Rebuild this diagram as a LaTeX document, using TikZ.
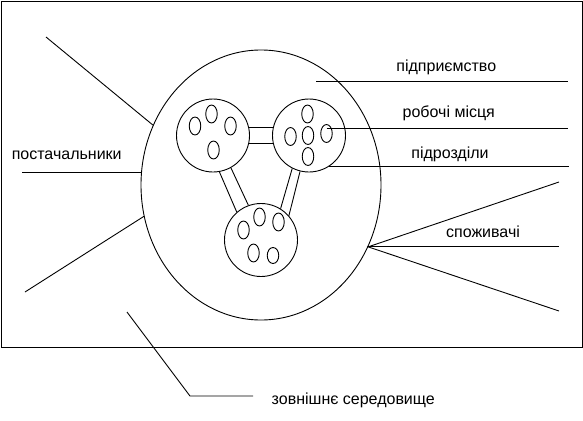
\documentclass[tikz,border=0pt]{standalone}
\usepackage{fontspec}
\setmainfont{Liberation Sans}
\usetikzlibrary{shapes.geometric}

\tikzset{
  unit/.style={draw, circle, minimum size=73pt, inner sep=0pt},
  place/.style={draw, ellipse, minimum width=11.5pt, minimum height=18pt, inner sep=0pt},
  lbl/.style={font=\fontsize{16}{19}\selectfont, anchor=base, inner sep=0pt},
}

\begin{document}
\begin{tikzpicture}[x=1pt, y=-1pt, line width=0.9pt]
  \useasboundingbox (0,0) rectangle (583,420);

  % external environment
  \draw (1,1) rectangle (582,347);

  % enterprise
  \node[draw, ellipse, minimum width=240pt, minimum height=270pt, inner sep=0pt] (ent) at (261,185) {};

  % departments
  \node[unit] (c1) at (213,135.5) {};
  \node[unit] (c2) at (309,135.5) {};
  \node[unit] (c3) at (261,240) {};

  % work places
  \foreach \n/\x/\y in {p11/195/126, p12/211.5/114, p13/230.5/126, p14/213.5/150,
                        p21/307.5/114, p22/290.5/136.5, p23/308/135.5, p24/326.5/133.5, p25/308/156.5,
                        p31/243.5/230, p32/259.5/217, p33/278.5/222, p34/253.5/253} {
    \node[place] (\n) at (\x,\y) {};
  }
  \node[place, minimum height=16pt] (p35) at (273,255.5) {};

  % links between departments
  \draw (c1.13) -- (c2.167);
  \draw (c1.-13) -- (c2.-167);
  \draw (c1.-80) -- (c3.131);
  \draw (c1.-61) -- (c3.110);
  \draw (c2.243) -- (c3.58);
  \draw (c2.256) -- (c3.41);

  % suppliers
  \coordinate (s1) at (46,37);
  \coordinate (s2) at (22,172);
  \coordinate (s3) at (25,292);
  \draw (ent.151) -- (s1);
  \draw (ent.174) -- (s2 |- ent.174);
  \draw (ent.195) -- (s3);

  % consumers
  \coordinate (k1) at (559,182);
  \coordinate (k2) at (559,247);
  \coordinate (k3) at (559,311);
  \draw (k1) -- (ent.-30) -- (k3);
  \draw (ent.-30) -- (k2 |- ent.-30);

  % label lines
  \coordinate (e1) at (316,81);
  \coordinate (e2) at (568,81);
  \draw (e1) -- (e2);
  \draw ([yshift=5pt]p24.center) -- ++(241,0);
  \draw (c2.-58) -- ++(240,0);

  \coordinate (v1) at (127,312);
  \coordinate (v2) at (190,396);
  \coordinate (v3) at (253,396);
  \draw (v1) -- (v2) -- (v3);

  % labels
  \node[lbl] (tEnt) at (446.3,71.7) {підприємство};
  \node[lbl] (tWork) at (448.8,117.7) {робочі місця};
  \node[lbl] (tDep) at (450,158.3) {підрозділи};
  \node[lbl] (tSup) at (66.7,159) {постачальники};
  \node[lbl] (tCons) at (483,237.7) {споживачі};
  \node[lbl] (tEnv) at (353.3,404) {зовнішнє середовище};
\end{tikzpicture}
\end{document}
